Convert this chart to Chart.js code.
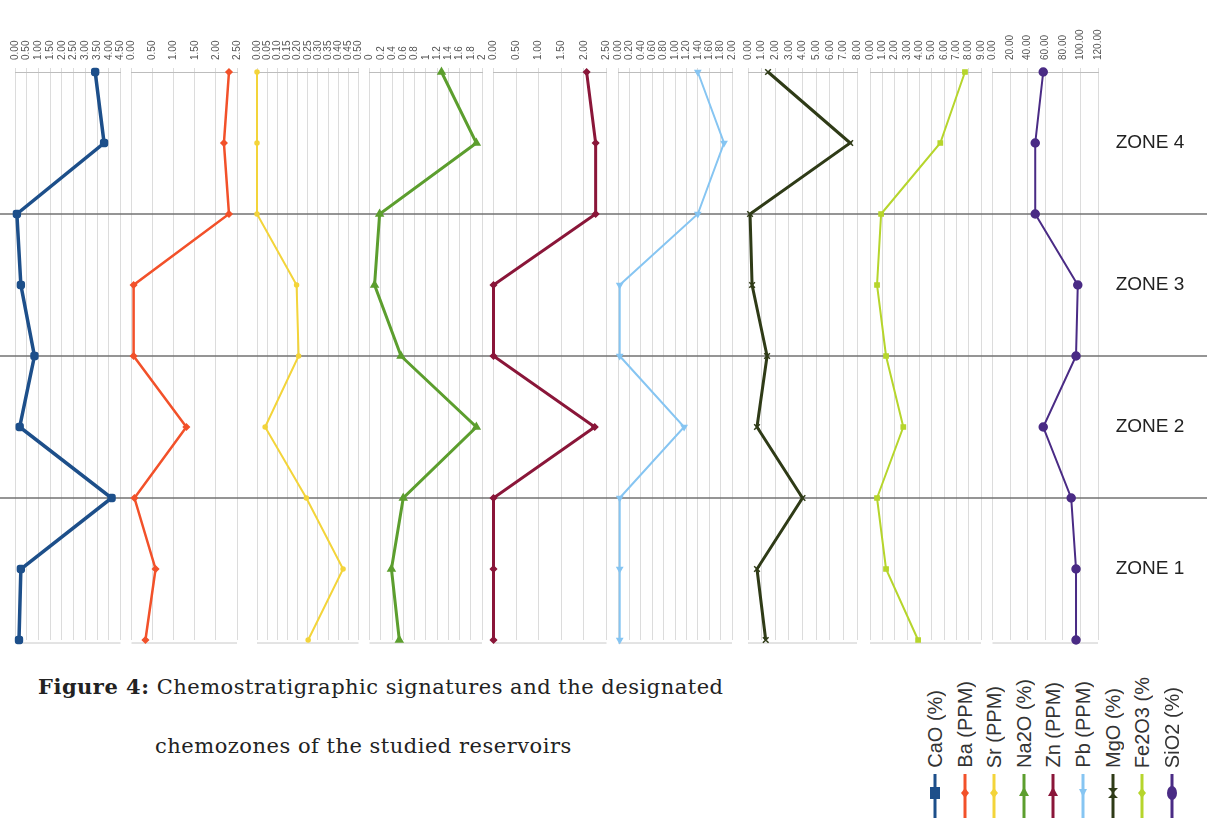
<!DOCTYPE html>
<html>
<head>
<meta charset="utf-8">
<script src="https://cdn.jsdelivr.net/npm/chart.js@4.4.1/dist/chart.umd.min.js"></script>
<style>
    body { margin: 0; background: #fff; width: 1207px; height: 822px; position: relative; overflow: hidden; font-family: "Liberation Sans", Arial, sans-serif; }
    canvas.panel { position: absolute; top: 20px; }
    .caption { position: absolute; font-family: "DejaVu Serif", serif; font-size: 21px; letter-spacing: 0.5px; color: #222; white-space: nowrap; }
    .leg-item { position: absolute; top: 640px; width: 26px; height: 182px; }
    .leg-text { position: absolute; bottom: 54px; left: 2px; writing-mode: vertical-rl; transform: rotate(180deg); font-size: 20px; color: #333; white-space: nowrap; }
    .leg-item svg { position: absolute; left: 0; bottom: 4px; }
</style>
</head>
<body>
<div class="caption" style="left:38px; top:674px;"><b>Figure 4:</b> Chemostratigraphic signatures and the designated</div>
<div class="caption" style="left:155px; top:734px;">chemozones of the studied reservoirs</div>

<script>
// 样本行（自上而下）
const rows = ['1', '2', '3', '4', '5', '6', '7', '8', '9'];
const zoneNames = ['ZONE 4', 'ZONE 3', 'ZONE 2', 'ZONE 1'];
const zoneCentres = [1, 3, 5, 7];
const zoneBreaks = [2, 4, 6];

// 各元素数值
const cao = [3.42, 3.80, 0.08, 0.25, 0.83, 0.20, 4.12, 0.25, 0.17];
const ba = [2.31, 2.19, 2.31, 0.05, 0.05, 1.30, 0.07, 0.57, 0.33];
const sr = [0.00, 0.00, 0.00, 0.195, 0.205, 0.04, 0.243, 0.424, 0.252];
const na2o = [1.28, 1.90, 0.18, 0.09, 0.56, 1.90, 0.60, 0.39, 0.53];
const zn = [2.06, 2.26, 2.26, 0.00, 0.00, 2.24, 0.00, 0.00, 0.00];
const pb = [1.40, 1.86, 1.40, 0.03, 0.03, 1.16, 0.03, 0.03, 0.03];
const mgo = [1.47, 7.50, 0.15, 0.30, 1.40, 0.66, 4.00, 0.66, 1.30];
const fe2o3 = [7.70, 5.70, 0.90, 0.57, 1.30, 2.70, 0.57, 1.30, 3.90];
const sio2 = [57.7, 48.6, 48.6, 97.0, 95.0, 57.7, 89.5, 95.0, 95.0];

const names = ['CaO (%)', 'Ba (PPM)', 'Sr  (PPM)', 'Na2O (%)', 'Zn  (PPM)', 'Pb  (PPM)', 'MgO  (%)', 'Fe2O3  (%', 'SiO2  (%)'];
const series = [cao, ba, sr, na2o, zn, pb, mgo, fe2o3, sio2];

// 刻度
const axisMax = [4.5, 2.5, 0.5, 2, 2.5, 2, 8, 9, 120];
const axisStep = [0.5, 0.5, 0.05, 0.2, 0.5, 0.2, 1, 1, 20];

// 外观
const colors = ['#1d4f8a', '#f2512a', '#f3d43a', '#5c9e2e', '#8a1639', '#86c5f2', '#2f3b17', '#b6d52c', '#4a2b85'];
const widths = [3.5, 2.5, 2, 3, 3, 2, 3, 2, 2];
const pointStyles = ['rectRounded', 'rectRot', 'circle', 'triangle', 'rectRot', 'triangle', 'crossRot', 'rect', 'circle'];
const pointRadius = [4, 3, 2, 4, 3, 3, 4, 3, 4];
const pointRotation = [0, 0, 0, 0, 0, 180, 0, 0, 0];

// 版面
const plotLeft = [15, 131, 257, 368, 493, 618, 748, 870, 992];
const plotRight = [123, 237, 362, 482, 607, 732, 857, 981, 1098];
const bounds = [0, 126, 245, 364, 488, 612, 741, 864, 987, 1207];

const zonePlugin = {
    id: 'zones',
    beforeDatasetsDraw(chart, args, opts) {
        const ctx = chart.ctx;
        const y = chart.scales.y;
        const area = chart.chartArea;
        ctx.save();
        // 面板底边
        ctx.strokeStyle = '#c8c8c8';
        ctx.lineWidth = 1;
        ctx.beginPath();
        ctx.moveTo(area.left, area.bottom + 3);
        ctx.lineTo(area.right, area.bottom + 3);
        ctx.stroke();
        // 分带线
        ctx.strokeStyle = '#727272';
        ctx.lineWidth = 1.5;
        zoneBreaks.forEach(function (i) {
            const py = y.getPixelForValue(i);
            ctx.beginPath();
            ctx.moveTo(0, py);
            ctx.lineTo(chart.width, py);
            ctx.stroke();
        });
        if (opts.labels) {
            ctx.fillStyle = '#222';
            ctx.font = '19px "Liberation Sans", Arial, sans-serif';
            ctx.textAlign = 'center';
            ctx.textBaseline = 'middle';
            zoneNames.forEach(function (n, k) {
                ctx.fillText(n, 1150 - bounds[bounds.length - 2], y.getPixelForValue(zoneCentres[k]));
            });
        }
        ctx.restore();
    }
};

series.forEach(function (vals, i) {
    const cv = document.createElement('canvas');
    cv.className = 'panel';
    const w = bounds[i + 1] - bounds[i];
    cv.width = w;
    cv.height = 632;
    cv.style.left = bounds[i] + 'px';
    cv.style.width = w + 'px';
    cv.style.height = '632px';
    document.body.appendChild(cv);

    new Chart(cv.getContext('2d'), {
        type: 'line',
        data: {
            labels: rows,
            datasets: [{
                label: names[i],
                data: vals,
                borderColor: colors[i],
                backgroundColor: colors[i],
                borderWidth: widths[i],
                pointStyle: pointStyles[i],
                pointRadius: pointRadius[i],
                pointRotation: pointRotation[i],
                pointBorderWidth: 1.5,
                tension: 0,
                clip: false
            }]
        },
        options: {
            responsive: false,
            animation: false,
            indexAxis: 'y',
            layout: {
                padding: { left: plotLeft[i] - bounds[i], right: bounds[i + 1] - plotRight[i], top: 0, bottom: 12 }
            },
            plugins: {
                legend: { display: false },
                tooltip: { enabled: false },
                zones: { labels: i === series.length - 1 }
            },
            scales: {
                x: {
                    type: 'linear',
                    position: 'top',
                    min: 0,
                    max: axisMax[i],
                    afterFit: function (s) {
                        s.height = 52;
                        s.paddingLeft = 0;
                        s.paddingRight = 0;
                    },
                    ticks: {
                        stepSize: axisStep[i],
                        autoSkip: false,
                        minRotation: 90,
                        maxRotation: 90,
                        padding: 8,
                        labelOffset: 12,
                        color: '#555',
                        font: { size: 10 },
                        callback: function (v) {
                            return i === 3 ? String(Number(v.toFixed(1))) : v.toFixed(2);
                        }
                    },
                    grid: { color: '#dcdcdc', lineWidth: 1, tickLength: 4 },
                    border: { color: '#bdbdbd' }
                },
                y: {
                    type: 'category',
                    display: false,
                    offset: false
                }
            }
        },
        plugins: [zonePlugin]
    });

    // 图例
    const item = document.createElement('div');
    item.className = 'leg-item';
    item.style.left = Math.round(922 + i * 29.6) + 'px';
    const c = colors[i];
    let marker;
    if (i === 0) marker = '<rect x="8" y="13" width="10" height="12" fill="' + c + '"/>';
    else if (i === 8) marker = '<ellipse cx="13" cy="19" rx="5" ry="7" fill="' + c + '"/>';
    else if (i === 6) marker = '<path d="M8 14 L18 14 L8 24 L18 24 Z" fill="' + c + '"/>';
    else if (i === 3 || i === 4) marker = '<path d="M13 13 L18 22 L8 22 Z" fill="' + c + '"/>';
    else if (i === 5) marker = '<path d="M9 15 L17 15 L13 23 Z" fill="' + c + '"/>';
    else marker = '<path d="M13 14 L17 19 L13 24 L9 19 Z" fill="' + c + '"/>';
    item.innerHTML = '<div class="leg-text">' + names[i] + '</div>' +
        '<svg width="26" height="44"><line x1="13" y1="0" x2="13" y2="44" stroke="' + c + '" stroke-width="3"/>' + marker + '</svg>';
    document.body.appendChild(item);
});
</script>
</body>
</html>
